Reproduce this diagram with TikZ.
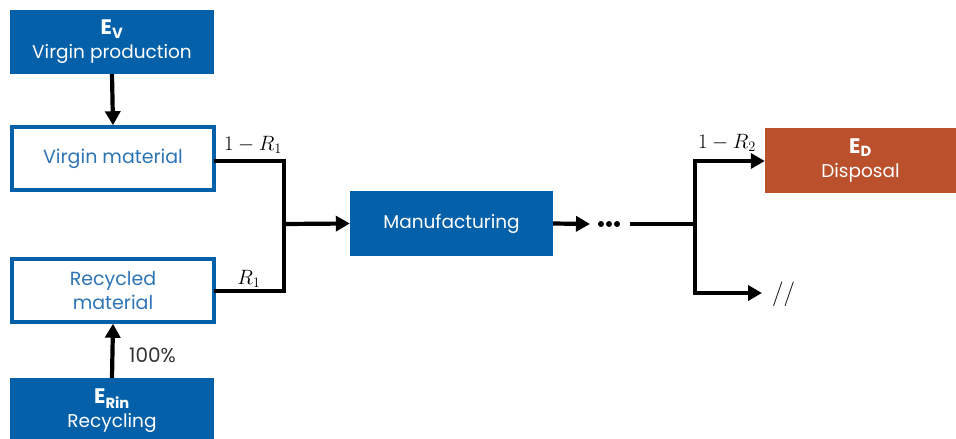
\documentclass[tikz,border=0pt]{standalone}
\usepackage{fontspec}
\setmainfont{Poppins}
\usetikzlibrary{arrows.meta}
\definecolor{boxblue}{RGB}{4,96,168}
\definecolor{txtblue}{RGB}{46,117,182}
\definecolor{dispred}{RGB}{186,80,44}
\newcommand{\etitle}[2]{{\fontsize{21}{26}\selectfont\bfseries E\textsubscript{#1}}\\{\fontsize{18.5}{22}\selectfont #2}}
\tikzset{
  bluebox/.style={fill=boxblue, text=white, minimum width=204pt, minimum height=64pt, inner sep=0pt, align=center, font=\fontsize{18.5}{24}\selectfont},
  whitebox/.style={draw=boxblue, fill=white, line width=3.5pt, text=txtblue, minimum width=202pt, minimum height=63pt, inner sep=0pt, align=center, font=\fontsize{19}{24}\selectfont},
  conn/.style={line width=4.2pt, line cap=rect},
  arr/.style={line width=4.2pt, -{Triangle[length=14pt,width=15pt]}},
  lbl/.style={font=\fontsize{22}{22}\selectfont, inner sep=0pt}
}
\begin{document}
\begin{tikzpicture}[x=1pt,y=-1pt]
\useasboundingbox (0,0) rectangle (956,439);
% boxes
\node[bluebox] (ev) at (112,42) {\etitle{V}{Virgin production}};
\node[whitebox] (vm) at (113,158.5) {Virgin material};
\node[whitebox] (rm) at (113,290.5) {Recycled\\material};
\node[bluebox, minimum height=66pt] (er) at (112,411) {\etitle{Rin}{Recycling}};
\node[bluebox, minimum width=203pt, minimum height=65pt] (mf) at (451.5,223.5) {Manufacturing};
\node[bluebox, fill=dispred, minimum width=191pt, minimum height=65pt] (ed) at (860.5,160.5) {\etitle{D}{Disposal}};
% coordinates
\coordinate (j1) at (284,224);
\coordinate (d1) at (632,224);
\coordinate (j2) at (695,224);
\coordinate (top2) at (695,161);
\coordinate (bot2) at (695,293);
\coordinate (end2) at (762,293);
\coordinate (a1) at (590,224);
% arrows
\draw[arr] (ev.south) -- (vm.north);
\draw[arr] (er.north) -- (rm.south);
\node[lbl, anchor=west, text=black!80, font=\fontsize{20}{20}\selectfont] (p100) at (129,355) {100\%};
\draw[conn] (vm.east |- 0,161) -- (284,161) -- (284,291) -- (rm.east |- 0,291);
\draw[arr] (j1) -- (mf.west);
\node[lbl, anchor=base] (l1) at (253,150) {$1-R_1$};
\node[lbl, anchor=base] (l2) at (249,284) {$R_1$};
\draw[arr] (mf.east) -- (a1);
\node[inner sep=0pt] (dots) at (609,224) {\tikz[x=1pt,y=1pt]{\foreach \i in {0,8,16} \fill (\i,0) circle (3pt);}};
\draw[conn] (d1) -- (j2);
\draw[conn] (top2) -- (bot2);
\draw[arr] ([xshift=-2.1pt]top2) -- (ed.west |- top2);
\draw[arr] ([xshift=-2.1pt]bot2) -- (end2);
\node[lbl, anchor=base] (l3) at (727,148) {$1-R_2$};
\node[lbl, anchor=west, font=\fontsize{25}{25}\selectfont] (slash) at (772,294) {$//$};
\end{tikzpicture}
\end{document}
